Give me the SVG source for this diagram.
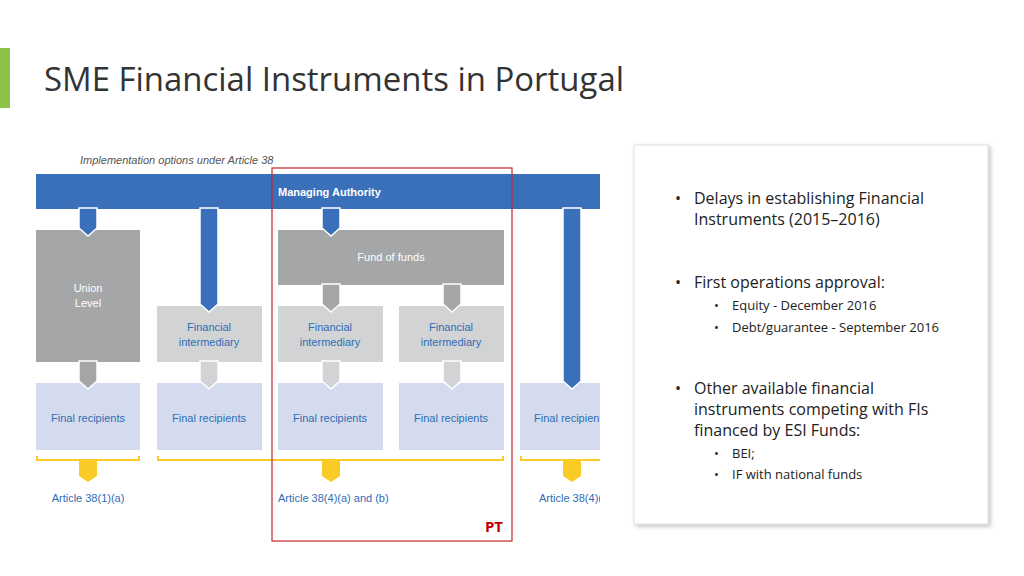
<svg xmlns="http://www.w3.org/2000/svg" width="1024" height="576" viewBox="0 0 1024 576">
<style>
text{font-family:"Open Sans","Liberation Sans",sans-serif}
.d{font-family:"Liberation Sans",sans-serif;font-size:11px}
.w{fill:#fff}.b{fill:#2f6db5}
.ar{stroke:#fff;stroke-width:1.5}
.blue{fill:#3a70b9}.dg{fill:#a5a6a8}.lg{fill:#d2d3d5}.fr{fill:#d5dbee}.y{fill:#f8cb26}
.t{fill:#222;font-size:16px}.s{fill:#222;font-size:13px}
</style>
<defs><filter id="sh"><feDropShadow dx="2" dy="2" stdDeviation="2" flood-color="#000" flood-opacity="0.25"/></filter></defs>
<rect width="1024" height="576" fill="#fff"/>
<rect x="0" y="48" width="10" height="60" fill="#8bc34a"/>
<text x="44" y="91" font-size="32" fill="#333" textLength="580" lengthAdjust="spacingAndGlyphs">SME Financial Instruments in Portugal</text>
<text x="80" y="164" class="d" font-style="italic" fill="#555" font-size="10">Implementation options under Article 38</text>
<g id="nodes">
<g id="union"><rect x="36" y="230" width="104" height="132" class="dg"/><text x="88" y="292" class="d w" text-anchor="middle">Union</text><text x="88" y="307" class="d w" text-anchor="middle">Level</text></g>
<g id="fi2"><rect x="157" y="306" width="105" height="56" class="lg"/><text x="209" y="331" class="d b" text-anchor="middle">Financial</text><text x="209" y="346" class="d b" text-anchor="middle">intermediary</text></g>
<g id="fof"><rect x="278" y="230" width="226" height="55" class="dg"/><text x="391" y="261" class="d w" text-anchor="middle">Fund of funds</text></g>
<g id="fi3"><rect x="278" y="306" width="105" height="56" class="lg"/><text x="330" y="331" class="d b" text-anchor="middle">Financial</text><text x="330" y="346" class="d b" text-anchor="middle">intermediary</text></g>
<g id="fi4"><rect x="399" y="306" width="105" height="56" class="lg"/><text x="451" y="331" class="d b" text-anchor="middle">Financial</text><text x="451" y="346" class="d b" text-anchor="middle">intermediary</text></g>
<g id="fr1"><rect x="36" y="383" width="104" height="67" class="fr"/><text x="88" y="422" class="d b" text-anchor="middle">Final recipients</text></g>
<g id="fr2"><rect x="157" y="383" width="105" height="67" class="fr"/><text x="209" y="422" class="d b" text-anchor="middle">Final recipients</text></g>
<g id="fr3"><rect x="278" y="383" width="105" height="67" class="fr"/><text x="330" y="422" class="d b" text-anchor="middle">Final recipients</text></g>
<g id="fr4"><rect x="399" y="383" width="105" height="67" class="fr"/><text x="451" y="422" class="d b" text-anchor="middle">Final recipients</text></g>
<g id="fr5"><rect x="520" y="383" width="80" height="67" class="fr"/><svg x="520" y="383" width="80" height="67" overflow="hidden"><text x="14" y="39" class="d b">Final recipients</text></svg></g>
<g id="ma"><rect x="36" y="174" width="564" height="35" class="blue"/><text x="278" y="196" class="d w" font-size="12" font-weight="bold">Managing Authority</text></g>
</g>
<g id="connectors">
<polygon class="blue ar" points="79,208 97,208 97,228 88,236 79,228"/>
<polygon class="blue ar" points="200,208 218,208 218,304 209,312 200,304"/>
<polygon class="blue ar" points="322,208 340,208 340,228 331,236 322,228"/>
<polygon class="blue ar" points="563,208 581,208 581,381 572,389 563,381"/>
<polygon class="dg ar" points="322,284 340,284 340,304 331,312 322,304"/>
<polygon class="dg ar" points="443,284 461,284 461,304 452,312 443,304"/>
<polygon class="dg ar" points="79,361 97,361 97,381 88,389 79,381"/>
<polygon class="lg ar" points="200,361 218,361 218,381 209,389 200,381"/>
<polygon class="lg ar" points="322,361 340,361 340,381 331,389 322,381"/>
<polygon class="lg ar" points="443,361 461,361 461,381 452,389 443,381"/>
<path d="M37,456V460H139V456M158,456V460H503V456M521,456V460H600" fill="none" stroke="#f8cb26" stroke-width="2"/>
<polygon class="y" points="79,461 97,461 97,476 88,482 79,476"/>
<polygon class="y" points="322,461 340,461 340,476 331,482 322,476"/>
<polygon class="y" points="563,461 581,461 581,476 572,482 563,476"/>
<text x="88" y="502" class="d b" text-anchor="middle" font-size="10">Article 38(1)(a)</text>
<text x="278" y="502" class="d b" font-size="10">Article 38(4)(a) and (b)</text>
<svg x="530" y="490" width="70" height="20" overflow="hidden"><text x="9" y="12" class="d b" font-size="10">Article 38(4)(c)</text></svg>
</g>
<rect x="272" y="168" width="240" height="373" fill="none" stroke="#c0272d" stroke-width="1.2"/>
<text x="494" y="532" font-size="15" font-weight="bold" fill="#c00000" text-anchor="middle">PT</text>
<g id="panel">
<rect x="634" y="145" width="354" height="379" fill="#fff" stroke="#ddd" filter="url(#sh)"/>
<text x="675" y="204" class="t">•</text><text x="694" y="204" class="t">Delays in establishing Financial</text>
<text x="694" y="225" class="t">Instruments (2015–2016)</text>
<text x="675" y="288" class="t">•</text><text x="694" y="288" class="t">First operations approval:</text>
<text x="714" y="310" class="s">•</text><text x="732" y="310" class="s">Equity - December 2016</text>
<text x="714" y="332" class="s">•</text><text x="732" y="332" class="s">Debt/guarantee - September 2016</text>
<text x="675" y="394" class="t">•</text><text x="694" y="394" class="t">Other available financial</text>
<text x="694" y="415" class="t">instruments competing with FIs</text>
<text x="694" y="436" class="t">financed by ESI Funds:</text>
<text x="714" y="458" class="s">•</text><text x="732" y="458" class="s">BEI;</text>
<text x="714" y="479" class="s">•</text><text x="732" y="479" class="s">IF with national funds</text>
</g>
</svg>
